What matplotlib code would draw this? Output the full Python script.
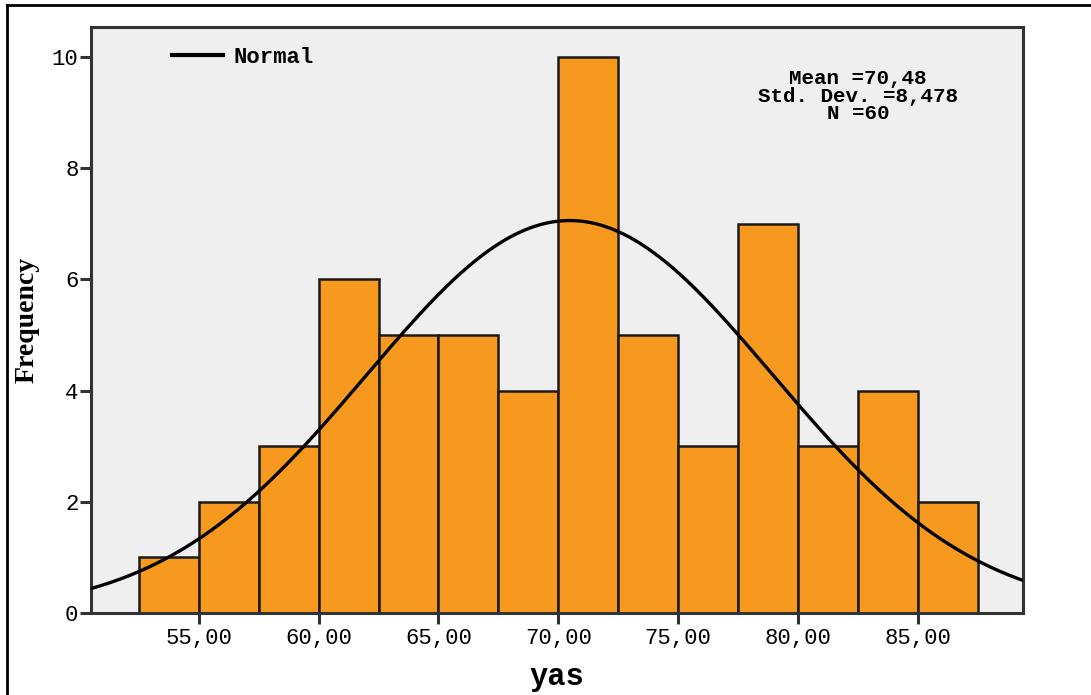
import matplotlib.pyplot as plt
from matplotlib.lines import Line2D
import numpy as np

# histogram of "yas" (age), bin width 2.5
bin_edges = [52.5, 55.0, 57.5, 60.0, 62.5, 65.0, 67.5, 70.0, 72.5, 75.0, 77.5, 80.0, 82.5, 85.0, 87.5]
counts = [1, 2, 3, 6, 5, 5, 4, 10, 5, 3, 7, 3, 4, 2]
mean, sd, n = 70.48, 8.478, 60
xticks = [55, 60, 65, 70, 75, 80, 85]
xtick_labels = ["55,00", "60,00", "65,00", "70,00", "75,00", "80,00", "85,00"]
yticks = [0, 2, 4, 6, 8, 10]
stats_lines = ["Mean =70,48", "Std. Dev. =8,478", "N =60"]

mono = "Liberation Mono"

fig = plt.figure(figsize=(10.91, 6.95), dpi=100)
ax = fig.add_axes([0.0834, 0.118, 0.8543, 0.8432])
ax.set_facecolor("#efefef")

widths = np.diff(bin_edges)
ax.bar(bin_edges[:-1], counts, width=widths, align="edge",
       color="#f7991f", edgecolor="#1a1a1a", linewidth=1.8, zorder=2)

# normal curve scaled to counts
x = np.linspace(50.5, 89.4, 400)
bw = widths[0]
y = n * bw / (sd * np.sqrt(2 * np.pi)) * np.exp(-0.5 * ((x - mean) / sd) ** 2)
ax.plot(x, y, color="black", linewidth=2.4, zorder=3)

ax.set_xlim(50.5, 89.4)
ax.set_ylim(0, 10.54)
ax.set_xticks(xticks)
ax.set_xticklabels(xtick_labels, fontfamily=mono, fontsize=16)
ax.set_yticks(yticks)
ax.set_yticklabels([str(v) for v in yticks], fontfamily=mono, fontsize=16)
ax.tick_params(axis="x", length=8, width=2.2, color="#333333", pad=3)
ax.tick_params(axis="y", length=8, width=2.2, color="#333333", pad=1)
for s in ax.spines.values():
    s.set_color("#333333")
    s.set_linewidth(2.2)

ax.set_xlabel("yas", fontfamily=mono, fontweight="bold", fontsize=22, labelpad=9)
ax.set_ylabel("Frequency", fontfamily="Liberation Serif", fontweight="bold", fontsize=20, labelpad=9)

# legend
ax.legend([Line2D([0], [0], color="black", linewidth=3)], ["Normal"],
          loc="upper left", bbox_to_anchor=(0.065, 1.0), frameon=False,
          prop={"family": mono, "weight": "bold", "size": 16},
          handlelength=2.3, handletextpad=0.5)

# stats text
ax.text(0.823, 0.882, "\n".join(stats_lines), transform=ax.transAxes,
        ha="center", va="center", multialignment="center",
        fontfamily=mono, fontweight="bold", fontsize=15, linespacing=0.92)

# outer frame (top and left edges visible)
fig.add_artist(Line2D([0.0064, 1.0], [0.993, 0.993], color="black", linewidth=2, transform=fig.transFigure))
fig.add_artist(Line2D([0.0064, 0.0064], [0.0, 0.993], color="black", linewidth=2, transform=fig.transFigure))

fig.savefig("out.png", dpi=100)
